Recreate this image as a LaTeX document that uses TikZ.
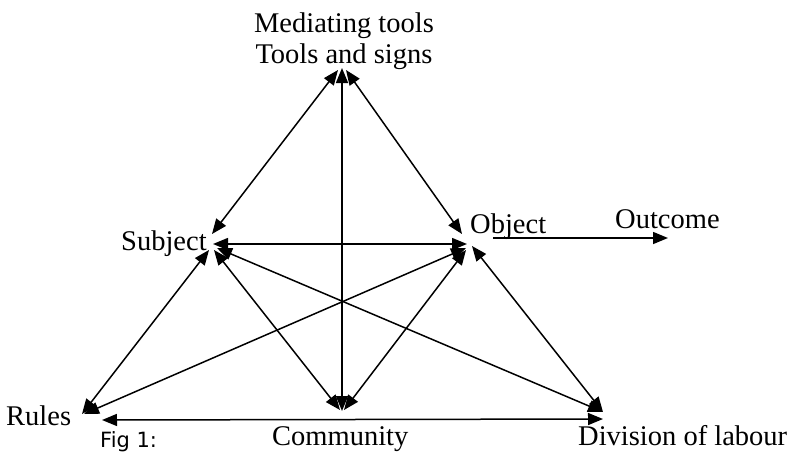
\documentclass[tikz,border=0pt]{standalone}
\usepackage{fontspec}
\setmainfont{Liberation Serif}
\newfontfamily\figfont{DejaVu Sans}
\usetikzlibrary{arrows.meta}
\begin{document}
\begin{tikzpicture}[x=1pt,y=-1pt,
  lbl/.style={inner sep=0pt, font=\fontsize{28.5}{31}\selectfont},
  figlbl/.style={inner sep=0pt, font=\figfont\fontsize{21}{24}\selectfont},
  link/.style={line width=1.5pt, {Triangle[length=15pt,width=12pt]}-{Triangle[length=15pt,width=12pt]}},
  oneway/.style={line width=1.5pt, -{Triangle[length=15pt,width=12pt]}}]
\useasboundingbox (0,0) rectangle (793,453);
% texts
\node[lbl, anchor=base] (med) at (344,32) {Mediating tools};
\node[lbl, anchor=base] (tas) at (344,63) {Tools and signs};
\node[lbl, anchor=base west] (subj) at (121,250) {Subject};
\node[lbl, anchor=base west] (obj) at (470,233) {Object};
\node[lbl, anchor=base west] (out) at (615,228) {Outcome};
\node[lbl, anchor=base west] (rules) at (6,425) {Rules};
\node[lbl, anchor=base west] (comm) at (272,445) {Community};
\node[lbl, anchor=base west] (div) at (578,445) {Division of labour};
\node[figlbl, anchor=base west] (fig) at (100,447) {Fig 1:};
% end points
\coordinate (TS) at (338,70);
\coordinate (TO) at (346,70);
\coordinate (TC) at (342,68);
\coordinate (ST) at (212,234);
\coordinate (OT) at (462,234);
\coordinate (CT) at (342,411);
\coordinate (SO) at (213,244);
\coordinate (OS) at (467,244);
\coordinate (SR) at (209,250);
\coordinate (RS) at (82,414);
\coordinate (SC) at (214,250);
\coordinate (CS) at (340,410);
\coordinate (SD) at (217,248);
\coordinate (DS) at (603,412);
\coordinate (OR) at (466,248);
\coordinate (RO) at (84,414);
\coordinate (OC) at (466,250);
\coordinate (CO) at (344,410);
\coordinate (OD) at (472,246);
\coordinate (DO) at (603,412);
\coordinate (RD) at (102,420);
\coordinate (DR) at (603,419);
\coordinate (OOut) at (493,238);
\coordinate (OutO) at (668,238);
% connectors
\draw[link] (TS) -- (ST);
\draw[link] (TO) -- (OT);
\draw[link] (TC) -- (CT);
\draw[link] (SO) -- (OS);
\draw[link] (SR) -- (RS);
\draw[link] (SC) -- (CS);
\draw[link] (SD) -- (DS);
\draw[link] (OR) -- (RO);
\draw[link] (OC) -- (CO);
\draw[link] (OD) -- (DO);
\draw[link] (RD) -- (DR);
\draw[oneway] (OOut) -- (OutO);
\end{tikzpicture}
\end{document}
